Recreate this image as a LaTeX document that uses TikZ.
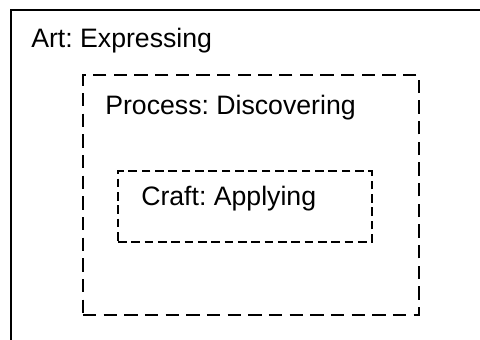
\documentclass[tikz,border=0pt]{standalone}
\usepackage{fontspec}
\setmainfont{Liberation Sans}
\frenchspacing
\begin{document}
\begin{tikzpicture}[x=0.75pt,y=-0.75pt,
  solidframe/.style={draw=black,line width=1.5pt},
  dashframe/.style={draw=black,line width=1.5pt,dash pattern=on 10pt off 5.5pt,
    anchor=north west,inner sep=0pt,outer sep=0pt},
  smalldash/.style={draw=black,line width=1.5pt,dash pattern=on 6.5pt off 3.5pt,
    anchor=north west,inner sep=0pt,outer sep=0pt},
  label/.style={anchor=base west,inner sep=0pt,font=\fontsize{20pt}{24pt}\selectfont}]
\useasboundingbox (0,0) rectangle (480,340);
\coordinate (outerBL) at (11,350);
\coordinate (outerTL) at (11,10);
\coordinate (outerTR) at (490,10);
\draw[solidframe] (outerBL) -- (outerTL) -- (outerTR);
\node[dashframe,minimum width=252pt,minimum height=180pt] (processbox) at (83,75) {};
\node[smalldash,minimum width=190.5pt,minimum height=53.25pt] (craftbox) at (118,171) {};
\node[label] (art) at (31,47) {Art: Expressing};
\node[label] (proc) at (105,114) {Process: Discovering};
\node[label] (craft) at (141,205) {Craft: Applying};
\end{tikzpicture}
\end{document}
